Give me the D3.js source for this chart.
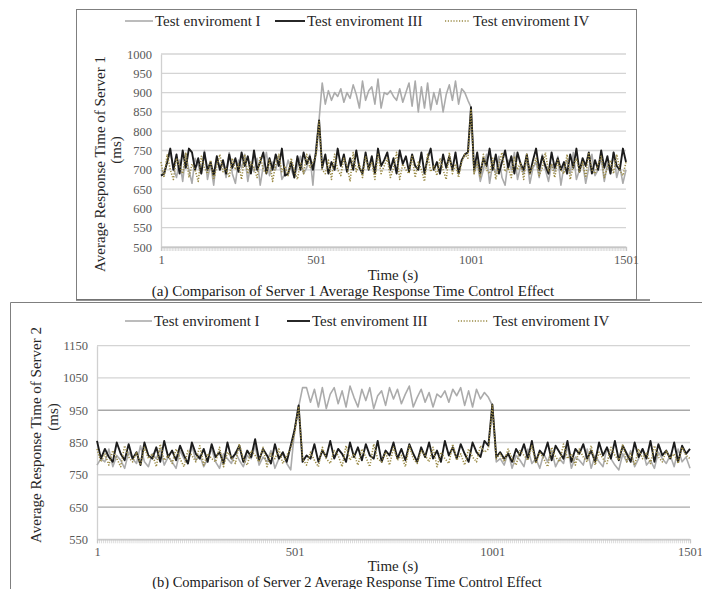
<!DOCTYPE html>
<html><head><meta charset="utf-8">
<script src="https://cdn.jsdelivr.net/npm/d3@7"></script>
<style>
body{margin:0;background:#fff}
svg{display:block}
text{font-family:"Liberation Serif","Times New Roman",serif}
</style>
</head><body>
<svg id="c" width="702" height="589"></svg>
<script>
// ---------- data ----------
const seriesNames = ["Test enviroment I", "Test enviroment III", "Test enviroment IV"];
const xTickLabels = [1, 501, 1001, 1501];
const timeStart = 1, timeStep = 10;
const yTicksA = [500, 550, 600, 650, 700, 750, 800, 850, 900, 950, 1000];
const yTicksB = [550, 650, 750, 850, 950, 1050, 1150];

// Server 1
const s1EnvI = [
700,690,720,745,705,680,725,670,740,700,
665,730,710,690,750,675,715,660,735,700,
720,680,745,690,665,725,705,740,670,715,
695,730,660,710,745,685,720,700,735,675,
690,725,700,680,710,735,690,705,740,660,
760,830,925,
870,905,880,900,890,910,875,900,885,920,
895,860,930,880,905,915,870,935,860,900,
895,905,890,880,910,875,900,925,865,930,
850,915,860,925,855,900,870,910,850,895,
920,880,930,870,910,900,880,
862,
690,720,670,700,740,665,715,690,735,680,
660,725,700,745,675,710,690,730,665,705,
720,680,740,700,670,715,695,735,660,710,
725,690,745,675,700,720,665,705,740,685,
700,730,670,715,690,745,680,710,665,700];
const s1EnvIII = [
685,690,720,755,700,740,690,750,705,755,
745,700,730,690,745,700,720,685,735,700,
725,690,740,705,730,695,745,710,735,690,
750,700,720,745,690,730,700,740,710,755,
685,690,720,680,735,700,745,715,735,700,
745,828,705,
740,690,720,700,755,710,740,695,730,700,
750,705,690,745,700,735,690,755,710,725,
745,700,730,690,750,715,735,695,740,710,
700,745,690,730,755,700,720,690,740,705,
735,700,745,690,725,740,
745,862,700,
745,690,730,710,755,700,740,690,720,750,
705,735,690,745,715,700,740,690,725,755,
700,735,710,690,745,705,730,700,720,690,
740,705,755,695,730,710,745,690,725,700,
750,705,735,690,745,710,700,755,720];
const s1EnvIV = [
720,680,740,700,675,730,710,690,745,680,
715,700,670,735,705,690,725,675,710,740,
695,705,680,730,700,715,675,740,690,720,
705,680,735,700,690,725,670,715,740,695,
710,685,730,700,675,720,690,740,705,720,
735,825,700,
690,725,675,740,700,685,730,710,670,745,
695,715,680,735,700,720,675,740,690,710,
730,680,705,745,675,715,700,690,735,680,
720,700,670,740,695,710,685,730,700,675,
745,690,715,680,720,740,
730,858,690,
720,680,740,700,690,730,675,715,745,695,
705,680,735,700,720,675,740,690,710,730,
685,705,745,695,715,680,725,700,690,740,
675,710,730,695,720,680,745,700,690,715,
735,680,705,725,690,740,700,685,720];

// Server 2
const s2EnvI = [
780,800,790,830,775,810,795,770,820,800,
785,840,790,775,815,800,830,780,805,790,
770,825,800,785,840,795,810,775,800,830,
790,770,815,800,785,820,795,775,810,800,
840,780,805,790,825,770,800,815,785,
765,890,960,1020,
1020,975,1015,960,1020,955,1000,1020,970,1010,
960,1025,990,960,1015,980,1020,955,995,1010,
965,1020,985,1015,970,1000,1025,960,990,1015,
975,1005,960,1000,990,1010,975,1015,995,1020,
965,1010,960,1015,985,1005,
990,965,790,
800,780,820,770,810,795,775,830,785,800,
770,815,790,825,775,800,785,840,770,805,
795,780,830,770,810,790,775,835,800,780,
765,815,790,825,775,800,830,780,795,770,
820,800,785,810,775,830,790,805,770];
const s2EnvIII = [
855,800,830,805,790,850,815,795,845,800,
820,780,850,810,800,835,790,855,805,825,
795,840,810,785,850,815,800,830,790,845,
805,820,785,850,800,815,840,790,825,805,
860,795,830,810,785,845,800,820,790,
840,890,965,790,
810,800,845,790,825,805,855,800,830,815,
790,850,805,835,795,845,810,800,855,790,
825,810,850,800,830,795,845,815,790,835,
805,850,800,825,790,855,810,835,800,845,
815,790,850,820,805,855,
840,968,805,
820,800,815,790,830,810,845,800,855,790,
825,810,850,795,840,820,800,855,790,830,
815,845,800,825,790,850,810,835,800,855,
795,840,815,790,850,805,830,800,855,790,
845,810,825,800,850,790,840,815,830];
const s2EnvIV = [
830,790,815,780,825,800,775,840,805,790,
820,780,835,800,815,775,845,795,810,785,
830,800,775,825,810,790,840,780,815,800,
790,835,775,820,805,785,845,800,780,825,
810,790,835,775,815,800,830,785,810,
830,880,962,800,
780,820,795,775,835,800,785,825,810,775,
840,795,815,780,830,805,775,845,800,790,
820,780,835,795,810,775,840,800,785,825,
810,790,835,775,820,800,785,845,795,815,
780,830,805,790,840,820,
830,965,800,
815,790,830,800,780,825,810,795,840,785,
820,800,775,835,805,790,845,800,815,780,
830,805,790,840,780,820,800,785,835,810,
795,845,790,815,780,830,800,820,785,840,
805,790,825,800,815,785,835,810,800];

// ---------- drawing ----------
const svg = d3.select("#c");
const colors = ["#ababab", "#1c1c1c", "#9a8a45"];
const widths = [1.6, 1.9, 1.6];
const dashes = [null, null, "1.2,1.6"];

// panel frames
svg.append("rect").attr("x", 76.5).attr("y", 9.5).attr("width", 560).attr("height", 290)
  .attr("fill", "none").attr("stroke", "#7f7f7f").attr("stroke-width", 1);
svg.append("path").attr("d", "M10.5,620 V302.5 H720").attr("fill", "none")
  .attr("stroke", "#7f7f7f").attr("stroke-width", 1);
svg.append("line").attr("x1", 76).attr("x2", 650).attr("y1", 300).attr("y2", 300)
  .attr("stroke", "#6f6f6f").attr("stroke-width", 1.5);

function drawPanel(cfg) {
  const g = svg.append("g");
  const x = d3.scaleLinear().domain([1, 1501]).range([cfg.x0, cfg.x1]);
  const y = d3.scaleLinear().domain(cfg.yDomain).range([cfg.yBottom, cfg.yTop]);

  // gridlines
  g.append("g").selectAll("line").data(cfg.yTicks).join("line")
    .attr("x1", cfg.x0).attr("x2", cfg.x1)
    .attr("y1", d => y(d)).attr("y2", d => y(d))
    .attr("stroke", d => (cfg.darkGrid || []).includes(d) ? "#a8a8a8" : "#d4d4d4")
    .attr("stroke-width", 1.3);

  // y axis
  const ya = d3.axisLeft(y).tickValues(cfg.yTicks).tickSize(0).tickPadding(9).tickFormat(d3.format("d"));
  const yg = g.append("g").attr("transform", `translate(${cfg.x0},0)`).call(ya);
  yg.attr("font-family", null);
  yg.select(".domain").attr("stroke", "#d0d0d0").attr("stroke-width", 1.3);
  yg.selectAll("text").attr("fill", "#595959").style("font-size", "12.5px")
    .style("font-family", "'Liberation Serif',serif");

  // x axis with dense minor ticks
  const minor = d3.range(1, 1502, 5);
  const xa = d3.axisBottom(x).tickValues(minor).tickSize(4).tickFormat("");
  const xg = g.append("g").attr("transform", `translate(0,${cfg.yBottom})`).call(xa);
  xg.select(".domain").attr("stroke", "#c8c8c8").attr("stroke-width", 1.3);
  xg.selectAll(".tick line").attr("stroke", "#c4c4c4").attr("stroke-width", 0.6);
  const xl = d3.axisBottom(x).tickValues(xTickLabels).tickSize(0).tickPadding(cfg.xLabelPad)
    .tickFormat(d3.format("d"));
  const xlg = g.append("g").attr("transform", `translate(0,${cfg.yBottom})`).call(xl);
  xlg.attr("font-family", null);
  xlg.select(".domain").remove();
  xlg.selectAll("text").attr("fill", "#595959").style("font-size", "12.5px")
    .style("font-family", "'Liberation Serif',serif");

  // lines
  const line = d3.line().x((d, i) => x(timeStart + timeStep * i)).y(d => y(d));
  cfg.series.forEach((s, k) => {
    g.append("path").datum(s).attr("d", line).attr("fill", "none")
      .attr("stroke", colors[k]).attr("stroke-width", widths[k])
      .attr("stroke-dasharray", dashes[k]).attr("stroke-linejoin", "round");
  });

  // legend
  cfg.legend.forEach((L, k) => {
    g.append("line").attr("x1", L.sx0).attr("x2", L.sx1).attr("y1", cfg.legY).attr("y2", cfg.legY)
      .attr("stroke", colors[k]).attr("stroke-width", widths[k]).attr("stroke-dasharray", dashes[k]);
    g.append("text").attr("x", L.tx).attr("y", cfg.legY + 5).text(seriesNames[k])
      .style("font-size", cfg.legFont + "px").attr("fill", "#262626");
  });

  // y title
  g.append("text").attr("transform", `translate(${cfg.yt1x},${cfg.yt1y}) rotate(-90)`)
    .attr("text-anchor", "middle").style("font-size", "15px").attr("fill", "#262626")
    .text(cfg.yTitle);
  g.append("text").attr("transform", `translate(${cfg.yt2x},${cfg.yt2y}) rotate(-90)`)
    .attr("text-anchor", "middle").style("font-size", "15px").attr("fill", "#262626")
    .text("(ms)");
  // x title
  g.append("text").attr("x", cfg.xtX).attr("y", cfg.xtY).attr("text-anchor", "middle")
    .style("font-size", "15px").attr("fill", "#262626").text("Time (s)");
  // caption
  g.append("text").attr("x", cfg.capX).attr("y", cfg.capY).attr("text-anchor", "middle")
    .style("font-size", cfg.capFont + "px").attr("fill", "#1a1a1a").text(cfg.caption);
}

drawPanel({
  x0: 161, x1: 626, yTop: 54, yBottom: 247, yDomain: [500, 1000], yTicks: yTicksA,
  xLabelPad: 8, series: [s1EnvI, s1EnvIII, s1EnvIV],
  legY: 21, legFont: 15,
  legend: [{sx0: 125, sx1: 153, tx: 155}, {sx0: 275, sx1: 305, tx: 307}, {sx0: 445, sx1: 470, tx: 473}],
  yTitle: "Average Response Time of Server 1", yt1x: 105, yt1y: 164, yt2x: 121, yt2y: 150,
  xtX: 393, xtY: 280, caption: "(a) Comparison of Server 1 Average Response Time Control Effect",
  capX: 353, capY: 296, capFont: 15
});

drawPanel({
  x0: 97, x1: 690, yTop: 345.7, yBottom: 539.3, yDomain: [550, 1150], yTicks: yTicksB,
  darkGrid: [950, 650],
  xLabelPad: 8, series: [s2EnvI, s2EnvIII, s2EnvIV],
  legY: 321, legFont: 15,
  legend: [{sx0: 125, sx1: 152, tx: 154}, {sx0: 287, sx1: 310, tx: 312}, {sx0: 458, sx1: 488, tx: 493}],
  yTitle: "Average Response Time of Server 2", yt1x: 41, yt1y: 435, yt2x: 58, yt2y: 417,
  xtX: 393, xtY: 571, caption: "(b) Comparison of Server 2 Average Response Time Control Effect",
  capX: 347, capY: 587, capFont: 14.5
});
</script>
</body></html>
